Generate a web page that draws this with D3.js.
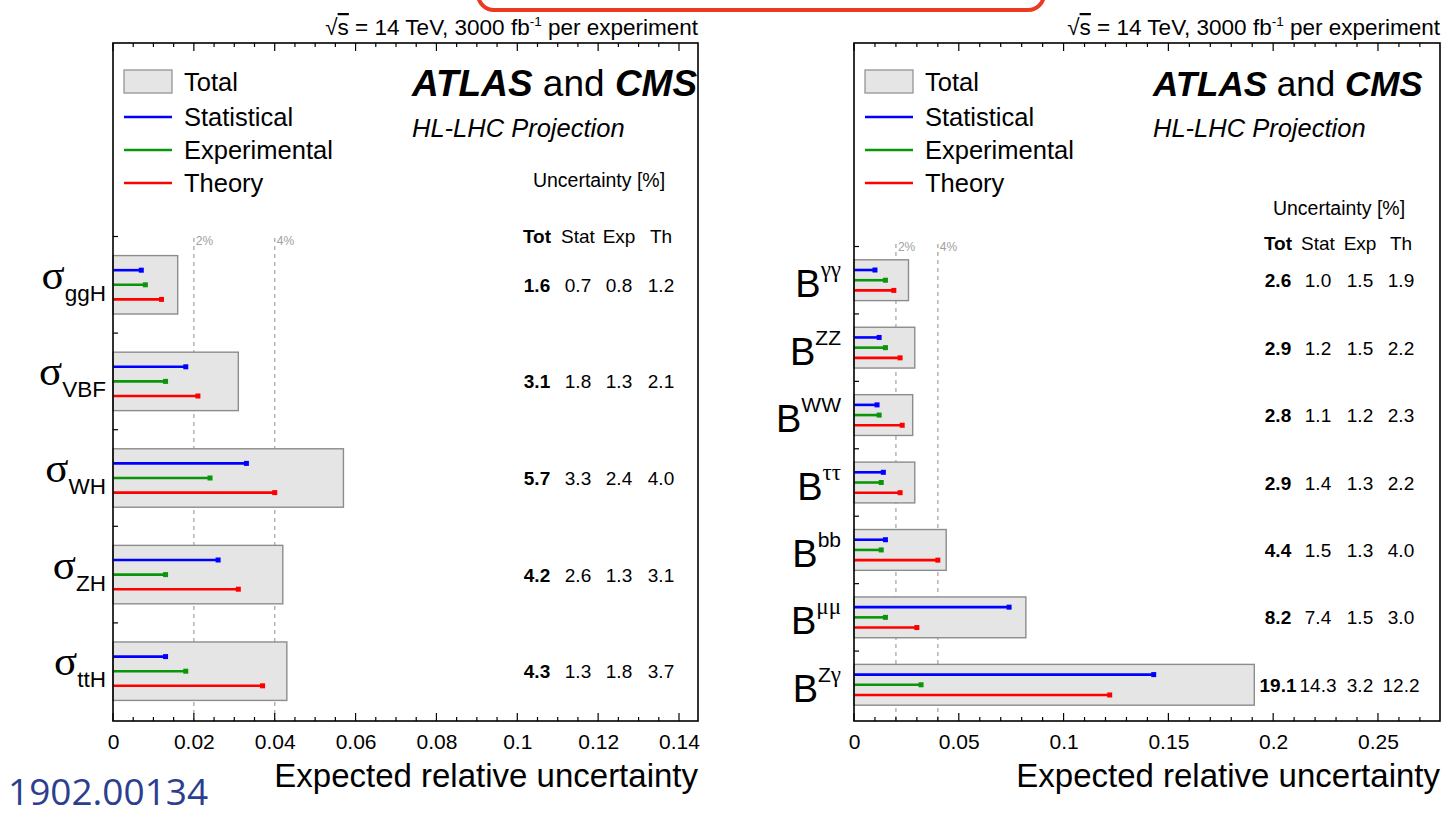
<!DOCTYPE html>
<html>
<head>
<meta charset="utf-8">
<script src="https://cdn.jsdelivr.net/npm/d3@7"></script>
<style>
  html, body { margin: 0; padding: 0; background: #fff; }
  svg { display: block; }
  text { font-family: "Liberation Sans", Arial, sans-serif; fill: #000; }
</style>
</head>
<body>
<svg id="chart" width="1444" height="817"></svg>
<script>
// ---------------- data ----------------
const leftCats  = ["ggH", "VBF", "WH", "ZH", "ttH"];
const leftTot   = [1.6, 3.1, 5.7, 4.2, 4.3];
const leftStat  = [0.7, 1.8, 3.3, 2.6, 1.3];
const leftExp   = [0.8, 1.3, 2.4, 1.3, 1.8];
const leftTh    = [1.2, 2.1, 4.0, 3.1, 3.7];
const leftTicks = [0, 0.02, 0.04, 0.06, 0.08, 0.1, 0.12, 0.14];

const rightCats  = ["γγ", "ZZ", "WW", "ττ", "bb", "μμ", "Zγ"];
const rightTot   = [2.6, 2.9, 2.8, 2.9, 4.4, 8.2, 19.1];
const rightStat  = [1.0, 1.2, 1.1, 1.4, 1.5, 7.4, 14.3];
const rightExp   = [1.5, 1.5, 1.2, 1.3, 1.3, 1.5, 3.2];
const rightTh    = [1.9, 2.2, 2.3, 2.2, 4.0, 3.0, 12.2];
const rightTicks = [0, 0.05, 0.1, 0.15, 0.2, 0.25];

const refLines = [0.02, 0.04];
const refLabels = ["2%", "4%"];
const legendItems = ["Total", "Statistical", "Experimental", "Theory"];
const colHeaders = ["Tot", "Stat", "Exp", "Th"];
const colors = { stat: "#0000ff", exp: "#0a960a", th: "#ff0000" };

// ---------------- drawing ----------------
const svg = d3.select("#chart");

// red annotation box, cropped at top
svg.append("rect")
  .attr("x", 478).attr("y", -30).attr("width", 566).attr("height", 40)
  .attr("rx", 16).attr("ry", 16)
  .attr("fill", "#fff").attr("stroke", "#ec3a22").attr("stroke-width", 4);

function isGreek(ch) { return /[\u0370-\u03ff]/.test(ch); }

function panel(cfg) {
  const g = svg.append("g");
  const x = d3.scaleLinear().domain([0, cfg.xmax]).range([cfg.x0, cfg.x1]);
  const y = d3.scaleBand().domain(cfg.cats).range([cfg.bandTop, cfg.bandBot]).padding(0);
  const step = y.step();
  const boxH = step * 0.605;
  const top = 43, bot = 721;

  // dashed reference lines
  refLines.forEach((v, i) => {
    g.append("line")
      .attr("x1", x(v)).attr("x2", x(v)).attr("y1", cfg.refTop).attr("y2", bot)
      .attr("stroke", "#b4b4b4").attr("stroke-width", 1.5).attr("stroke-dasharray", "4,4");
    g.append("text")
      .attr("x", x(v) + 2).attr("y", cfg.refTop + 7)
      .attr("font-size", 12).style("fill", "#a0a0a0").text(refLabels[i]);
  });

  // total boxes
  cfg.cats.forEach((c, i) => {
    const cy = y(c) + step / 2;
    g.append("rect")
      .attr("x", x(0)).attr("y", cy - boxH / 2)
      .attr("width", x(cfg.tot[i] / 100) - x(0)).attr("height", boxH)
      .attr("fill", "#e5e5e5").attr("stroke", "#8c8c8c").attr("stroke-width", 1.4);
    const comps = [[cfg.stat[i], colors.stat], [cfg.exp[i], colors.exp], [cfg.th[i], colors.th]];
    comps.forEach((p, k) => {
      const ly = cy + (k - 1) * boxH * 0.25;
      const xe = x(p[0] / 100);
      g.append("line")
        .attr("x1", x(0)).attr("x2", xe).attr("y1", ly).attr("y2", ly)
        .attr("stroke", p[1]).attr("stroke-width", 2.6);
      g.append("rect")
        .attr("x", xe - 2.5).attr("y", ly - 2.5).attr("width", 5).attr("height", 5)
        .attr("fill", p[1]);
    });

    // numbers
    const vals = [cfg.tot[i], cfg.stat[i], cfg.exp[i], cfg.th[i]];
    vals.forEach((v, k) => {
      g.append("text")
        .attr("x", cfg.cols[k]).attr("y", cy + 7)
        .attr("text-anchor", "middle").attr("font-size", 19)
        .attr("font-weight", k === 0 ? "bold" : "normal")
        .text(v.toFixed(1));
    });

    // category labels
    const lab = g.append("text").attr("text-anchor", "end");
    if (cfg.kind === "sigma") {
      lab.attr("x", cfg.x0 - 7).attr("y", cy + 4);
      lab.append("tspan").style("font-family", "'Liberation Serif', 'DejaVu Serif', serif")
        .attr("font-size", 43).text("σ");
      lab.append("tspan").attr("font-size", 22.5).attr("dy", 12).text(c);
    } else {
      lab.attr("x", cfg.x0 - 13).attr("y", cy + 17);
      lab.append("tspan").attr("font-size", 38).text("B");
      const chars = Array.from(c);
      chars.forEach((ch, j) => {
        const t = lab.append("tspan").attr("font-size", 21).text(ch);
        if (j === 0) t.attr("dy", -20);
        if (isGreek(ch)) t.style("font-family", "'Liberation Serif', 'DejaVu Serif', serif").attr("font-size", 23);
      });
    }
  });

  // column headers
  g.append("text").attr("x", cfg.uncX).attr("y", cfg.uncY)
    .attr("text-anchor", "middle").attr("font-size", 19.5).text("Uncertainty [%]");
  colHeaders.forEach((h, k) => {
    g.append("text").attr("x", cfg.cols[k]).attr("y", cfg.hdrY)
      .attr("text-anchor", "middle").attr("font-size", 19)
      .attr("font-weight", k === 0 ? "bold" : "normal").text(h);
  });

  // frame
  g.append("rect").attr("x", cfg.x0).attr("y", top)
    .attr("width", cfg.x1 - cfg.x0).attr("height", bot - top)
    .attr("fill", "none").attr("stroke", "#000").attr("stroke-width", 1.6);

  // x axis (bottom) using d3 axis
  const minor = d3.range(0, cfg.xmax + 1e-9, cfg.minorStep);
  const axB = g.append("g").attr("transform", `translate(0,${bot})`)
    .call(d3.axisBottom(x).tickValues(cfg.ticks).tickSize(0).tickPadding(13)
      .tickFormat(d => d3.format("~g")(d)));
  axB.select(".domain").remove();
  axB.selectAll("text").attr("font-size", 21).style("font-family", "'Liberation Sans', Arial, sans-serif").attr("fill", "#000");
  minor.forEach(v => {
    const isMajor = cfg.ticks.some(t => Math.abs(t - v) < 1e-9);
    const len = isMajor ? 8 : 4;
    g.append("line").attr("x1", x(v)).attr("x2", x(v)).attr("y1", bot).attr("y2", bot - len)
      .attr("stroke", "#000").attr("stroke-width", 1.2);
    g.append("line").attr("x1", x(v)).attr("x2", x(v)).attr("y1", top).attr("y2", top + len)
      .attr("stroke", "#000").attr("stroke-width", 1.2);
  });
  // y ticks at band boundaries
  cfg.cats.forEach(c => {
    g.append("line").attr("x1", cfg.x0).attr("x2", cfg.x0 + 5).attr("y1", y(c)).attr("y2", y(c))
      .attr("stroke", "#000").attr("stroke-width", 1.2);
  });

  // axis title
  g.append("text").attr("x", cfg.x1).attr("y", 787).attr("text-anchor", "end")
    .attr("font-size", 33).text("Expected relative uncertainty");

  // energy label
  const el = g.append("text").attr("x", cfg.x1).attr("y", 35).attr("text-anchor", "end").attr("font-size", 22.5);
  el.append("tspan").text("√");
  el.append("tspan").style("text-decoration", "overline").text("s");
  el.append("tspan").text(" = 14 TeV, 3000 fb");
  el.append("tspan").attr("dy", -9).attr("font-size", 13.5).text("-1");
  el.append("tspan").attr("dy", 9).text(" per experiment");

  // legend
  const lx = cfg.x0 + 11;
  g.append("rect").attr("x", lx).attr("y", 70).attr("width", 48).attr("height", 23)
    .attr("fill", "#e5e5e5").attr("stroke", "#8c8c8c").attr("stroke-width", 1.2);
  const legY = [82, 117, 150, 183];
  const legC = [null, colors.stat, colors.exp, colors.th];
  legendItems.forEach((t, k) => {
    if (k > 0) {
      g.append("line").attr("x1", lx).attr("x2", lx + 48).attr("y1", legY[k]).attr("y2", legY[k])
        .attr("stroke", legC[k]).attr("stroke-width", 2.6);
    }
    g.append("text").attr("x", lx + 60).attr("y", legY[k] + 9).attr("font-size", 25.5).text(t);
  });

  // ATLAS and CMS
  const at = g.append("text").attr("x", cfg.atlasX).attr("y", 96).attr("font-size", cfg.atlasSize);
  at.append("tspan").attr("font-weight", "bold").attr("font-style", "italic").text("ATLAS");
  at.append("tspan").text(" and ");
  at.append("tspan").attr("font-weight", "bold").attr("font-style", "italic").text("CMS");
  g.append("text").attr("x", cfg.atlasX).attr("y", 137).attr("font-size", 25.5)
    .attr("font-style", "italic").text("HL-LHC Projection");
}

panel({
  kind: "sigma", cats: leftCats, tot: leftTot, stat: leftStat, exp: leftExp, th: leftTh,
  ticks: leftTicks, minorStep: 0.005, xmax: 0.1447, x0: 113, x1: 698,
  bandTop: 236.5, bandBot: 719.5, refTop: 238,
  cols: [537, 578, 619, 661], uncX: 599, uncY: 187, hdrY: 243, atlasX: 412, atlasSize: 37
});
panel({
  kind: "B", cats: rightCats, tot: rightTot, stat: rightStat, exp: rightExp, th: rightTh,
  ticks: rightTicks, minorStep: 0.01, xmax: 0.2796, x0: 854, x1: 1440,
  bandTop: 246.5, bandBot: 718.5, refTop: 244,
  cols: [1278, 1318, 1360, 1401], uncX: 1339, uncY: 215, hdrY: 250, atlasX: 1153, atlasSize: 35
});

// arXiv number
svg.append("text").attr("x", 8).attr("y", 805).attr("font-size", 37)
  .style("font-family", "'Open Sans', 'Liberation Sans', sans-serif")
  .style("fill", "#2c3e8f").text("1902.00134");
</script>
</body>
</html>
